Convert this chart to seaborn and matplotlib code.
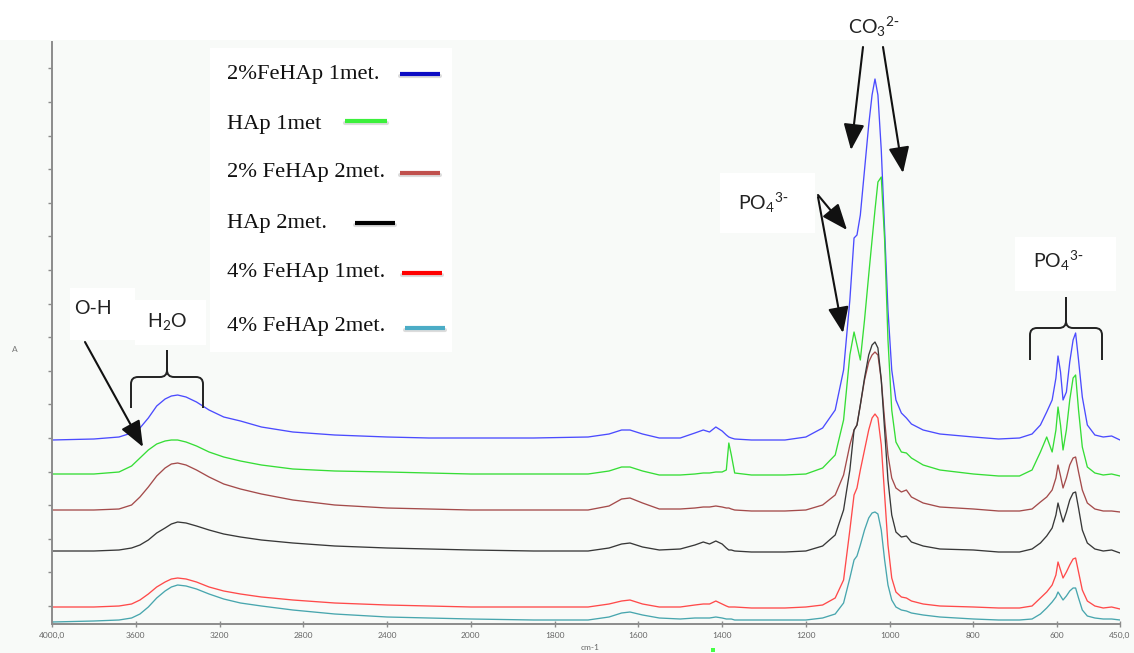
import numpy as np
import pandas as pd
import matplotlib
matplotlib.use("Agg")
import matplotlib.pyplot as plt
import matplotlib.transforms as mtransforms
from matplotlib.patches import Rectangle, PathPatch, FancyArrowPatch
from matplotlib.path import Path
from matplotlib.lines import Line2D
import seaborn as sns

# ---------------- data ----------------
wavenumber = [4000, 3800, 3680, 3620, 3580, 3540, 3500, 3460, 3430, 3400,
              3360, 3310, 3250, 3180, 3100, 3000, 2850, 2650, 2400, 2200,
              2000, 1850, 1720, 1670, 1640, 1620, 1590, 1550, 1500, 1465,
              1445, 1430, 1415, 1400, 1390, 1384, 1378, 1370, 1330, 1250,
              1200, 1160, 1130, 1110, 1095, 1085, 1078, 1070, 1060, 1050,
              1042, 1035, 1028, 1020, 1012, 1004, 995, 985, 972, 960,
              948, 920, 880, 800, 740, 690, 660, 640, 625, 612,
              603, 598, 592, 586, 578, 570, 562, 556, 549, 540,
              528, 510, 490, 470, 450]

fehap2_1met = [1.84, 1.85, 1.87, 1.91, 1.96, 2.06, 2.18, 2.25, 2.28, 2.29,
               2.27, 2.22, 2.14, 2.07, 2.03, 1.97, 1.92, 1.89, 1.87, 1.86,
               1.86, 1.86, 1.87, 1.90, 1.94, 1.94, 1.90, 1.86, 1.86, 1.91,
               1.94, 1.92, 1.97, 1.93, 1.89, 1.87, 1.86, 1.85, 1.84, 1.84,
               1.87, 1.96, 2.14, 2.54, 3.24, 3.86, 3.89, 4.09, 4.54, 4.99,
               5.29, 5.45, 5.29, 4.74, 3.94, 3.14, 2.54, 2.24, 2.11, 2.06,
               2.00, 1.94, 1.90, 1.87, 1.85, 1.86, 1.90, 1.99, 2.12, 2.24,
               2.46, 2.68, 2.52, 2.24, 2.32, 2.62, 2.84, 2.91, 2.64, 2.27,
               1.99, 1.89, 1.87, 1.88, 1.84]

hap_1met = [1.50, 1.50, 1.52, 1.58, 1.66, 1.74, 1.80, 1.83, 1.84, 1.84,
            1.82, 1.78, 1.72, 1.67, 1.63, 1.59, 1.55, 1.53, 1.52, 1.51,
            1.50, 1.50, 1.50, 1.53, 1.57, 1.57, 1.53, 1.49, 1.49, 1.50,
            1.51, 1.51, 1.52, 1.52, 1.54, 1.81, 1.69, 1.51, 1.49, 1.49,
            1.50, 1.56, 1.69, 2.04, 2.69, 2.92, 2.79, 2.64, 3.04, 3.49,
            3.84, 4.14, 4.42, 4.47, 3.84, 2.84, 2.14, 1.82, 1.72, 1.71,
            1.66, 1.59, 1.54, 1.50, 1.48, 1.48, 1.54, 1.72, 1.87, 1.72,
            1.94, 2.17, 1.99, 1.74, 1.94, 2.24, 2.46, 2.49, 2.14, 1.77,
            1.57, 1.51, 1.49, 1.50, 1.48]

fehap2_2met = [1.14, 1.14, 1.15, 1.19, 1.27, 1.37, 1.48, 1.56, 1.60, 1.61,
               1.59, 1.54, 1.47, 1.40, 1.35, 1.30, 1.24, 1.19, 1.16, 1.15,
               1.14, 1.14, 1.14, 1.18, 1.25, 1.26, 1.21, 1.15, 1.15, 1.16,
               1.17, 1.17, 1.18, 1.17, 1.16, 1.16, 1.15, 1.14, 1.13, 1.13,
               1.14, 1.19, 1.29, 1.49, 1.79, 1.94, 1.99, 2.19, 2.44, 2.62,
               2.69, 2.72, 2.69, 2.44, 2.04, 1.69, 1.46, 1.36, 1.32, 1.34,
               1.27, 1.21, 1.17, 1.15, 1.13, 1.13, 1.15, 1.22, 1.27, 1.34,
               1.46, 1.59, 1.48, 1.36, 1.46, 1.59, 1.66, 1.67, 1.52, 1.34,
               1.21, 1.15, 1.13, 1.13, 1.12]

hap_2met = [0.73, 0.73, 0.74, 0.76, 0.79, 0.84, 0.91, 0.96, 1.00, 1.02,
            1.01, 0.98, 0.94, 0.90, 0.87, 0.84, 0.81, 0.78, 0.76, 0.75,
            0.74, 0.73, 0.73, 0.76, 0.80, 0.81, 0.77, 0.74, 0.75, 0.79,
            0.82, 0.80, 0.83, 0.80, 0.76, 0.74, 0.74, 0.73, 0.72, 0.72,
            0.73, 0.78, 0.89, 1.14, 1.54, 1.94, 1.99, 2.19, 2.46, 2.69,
            2.79, 2.82, 2.76, 2.44, 1.94, 1.44, 1.09, 0.92, 0.87, 0.88,
            0.82, 0.78, 0.75, 0.74, 0.72, 0.72, 0.75, 0.81, 0.88, 0.96,
            1.09, 1.21, 1.11, 1.02, 1.12, 1.24, 1.31, 1.32, 1.16, 0.94,
            0.81, 0.75, 0.73, 0.74, 0.71]

fehap4_1met = [0.17, 0.17, 0.18, 0.20, 0.24, 0.30, 0.37, 0.42, 0.45, 0.46,
               0.45, 0.42, 0.37, 0.33, 0.30, 0.27, 0.24, 0.21, 0.19, 0.18,
               0.17, 0.17, 0.17, 0.20, 0.23, 0.24, 0.20, 0.17, 0.17, 0.19,
               0.20, 0.20, 0.23, 0.20, 0.18, 0.17, 0.17, 0.17, 0.16, 0.16,
               0.17, 0.19, 0.26, 0.44, 0.94, 1.29, 1.36, 1.54, 1.74, 1.94,
               2.06, 2.10, 2.06, 1.79, 1.29, 0.79, 0.46, 0.32, 0.27, 0.26,
               0.23, 0.20, 0.18, 0.17, 0.16, 0.16, 0.18, 0.26, 0.32, 0.39,
               0.49, 0.62, 0.54, 0.46, 0.52, 0.59, 0.65, 0.66, 0.52, 0.34,
               0.23, 0.18, 0.16, 0.17, 0.15]

fehap4_2met = [0.02, 0.03, 0.04, 0.06, 0.10, 0.17, 0.26, 0.33, 0.37, 0.39,
               0.38, 0.35, 0.30, 0.25, 0.21, 0.18, 0.14, 0.10, 0.07, 0.06,
               0.05, 0.04, 0.04, 0.07, 0.11, 0.12, 0.09, 0.06, 0.05, 0.06,
               0.06, 0.06, 0.07, 0.06, 0.05, 0.05, 0.05, 0.04, 0.04, 0.04,
               0.04, 0.06, 0.10, 0.21, 0.46, 0.64, 0.68, 0.79, 0.94, 1.06,
               1.11, 1.12, 1.10, 0.94, 0.64, 0.39, 0.24, 0.17, 0.14, 0.13,
               0.11, 0.09, 0.07, 0.05, 0.04, 0.04, 0.05, 0.10, 0.16, 0.22,
               0.27, 0.32, 0.28, 0.24, 0.28, 0.33, 0.36, 0.36, 0.26, 0.14,
               0.08, 0.06, 0.05, 0.05, 0.04]

samples = ["2%FeHAp 1met.", "HAp 1met", "2% FeHAp 2met.",
           "HAp 2met.", "4% FeHAp 1met.", "4% FeHAp 2met."]
series = [fehap2_1met, hap_1met, fehap2_2met, hap_2met, fehap4_1met, fehap4_2met]

x_ticks = [4000, 3600, 3200, 2800, 2400, 2000, 1800, 1600, 1400, 1200, 1000, 800, 600, 450]
x_tick_labels = ["4000,0", "3600", "3200", "2800", "2400", "2000", "1800",
                 "1600", "1400", "1200", "1000", "800", "600", "450,0"]

line_colors = ["#4b4bff", "#36dd36", "#a44b4b", "#383838", "#ff4a4a", "#48a6ae"]
legend_colors = ["#0b0bc4", "#3cf03c", "#c0504d", "#000000", "#ff0000", "#4bacc6"]

# ---------------- figure ----------------
sns.set_theme(style="white")
plt.rcParams["font.family"] = ["Lato", "DejaVu Sans"]
plt.rcParams["mathtext.default"] = "regular"

W, H = 1134, 653
fig = plt.figure(figsize=(W / 100, H / 100), dpi=100)
fig.patch.set_facecolor("#f8faf8")
pix = mtransforms.Affine2D().scale(1 / W, 1 / H) + fig.transFigure


def box(x0, y0, x1, y1, color="white"):
    fig.patches.append(Rectangle((x0, H - y1), x1 - x0, y1 - y0, transform=pix,
                                 facecolor=color, edgecolor="none", zorder=0))


# white strip at top and white boxes behind labels
box(0, 0, W, 40)
box(210, 48, 452, 352)
box(70, 288, 135, 340)
box(135, 300, 206, 345)
box(720, 173, 815, 233)
box(1015, 237, 1116, 291)

ax = fig.add_axes([52 / W, 1 - 624 / H, (1120 - 52) / W, (624 - 42) / H])
ax.set_facecolor("none")

df = pd.DataFrame({
    "wavenumber": np.tile(wavenumber, len(samples)),
    "absorbance": np.concatenate(series),
    "sample": np.repeat(samples, len(wavenumber)),
})
sns.lineplot(data=df, x="wavenumber", y="absorbance", hue="sample",
             hue_order=samples, palette=dict(zip(samples, line_colors)),
             estimator=None, sort=False, legend=False, linewidth=0.95, ax=ax)


def fwd(w):
    w = np.asarray(w, dtype=float)
    return np.where(w > 2000, 2000 + (w - 2000) * 0.5, w)


def inv(u):
    u = np.asarray(u, dtype=float)
    return np.where(u > 2000, 2000 + (u - 2000) * 2.0, u)


ax.set_xscale("function", functions=(fwd, inv))
ax.set_xlim(4000, 450)
ax.set_ylim(0, 5.82)
ax.set_xticks(x_ticks)
ax.set_xticklabels(x_tick_labels)
ax.set_yticks(np.arange(0.18, 5.8, 0.336))
ax.set_yticklabels([])
ax.set_xlabel("")
ax.set_ylabel("")
for s in ["top", "right"]:
    ax.spines[s].set_visible(False)
for s in ["left", "bottom"]:
    ax.spines[s].set_color("#8c8c8c")
    ax.spines[s].set_linewidth(1.4)
ax.tick_params(axis="x", direction="inout", length=5, width=1, color="#8c8c8c",
               labelsize=6, labelcolor="#666666", pad=3, bottom=True)
ax.tick_params(axis="y", direction="out", length=3, width=1, color="#8c8c8c", left=True)

# axis captions
fig.text(15 / W, 1 - 349 / H, "A", fontsize=6, color="#777777", ha="center", va="center")
fig.text(590 / W, 1 - 648 / H, "cm-1", fontsize=6, color="#666666", ha="center", va="center")
box(711, 648, 715, 652, color="#44ff44")

# legend (drawn manually to match the picture)
leg_text_y = [75, 124, 173, 224, 273, 326]
leg_line_x = [(400, 440), (345, 387), (400, 440), (355, 395), (402, 442), (405, 445)]
leg_line_y = [74, 121, 173, 223, 273, 328]
for lab, ty, (lx0, lx1), ly, col in zip(samples, leg_text_y, leg_line_x, leg_line_y, legend_colors):
    fig.text(227 / W, 1 - ty / H, lab, fontsize=16.2, family="Liberation Serif",
             color="#111111", ha="left", va="center")
    fig.lines.append(Line2D([lx0, lx1], [H - ly - 1.5, H - ly - 1.5], transform=pix,
                            color="#bbbbbb", linewidth=3, alpha=0.5))
    fig.lines.append(Line2D([lx0, lx1], [H - ly, H - ly], transform=pix,
                            color=col, linewidth=3, solid_capstyle="butt"))

# labels
lab_kw = dict(fontsize=14, color="#222222", ha="left", va="baseline", family=["Lato", "DejaVu Sans"])
fig.text(848 / W, 1 - 34 / H, r"CO$_3$$^{2\text{-}}$", **lab_kw)
fig.text(738 / W, 1 - 210 / H, r"PO$_4$$^{3\text{-}}$", **lab_kw)
fig.text(1033 / W, 1 - 268 / H, r"PO$_4$$^{3\text{-}}$", **lab_kw)
fig.text(74 / W, 1 - 314 / H, "O-H", **lab_kw)
fig.text(147 / W, 1 - 327 / H, r"H$_2$O", **lab_kw)


def arrow(x0, y0, x1, y1):
    fig.patches.append(FancyArrowPatch((x0, H - y0), (x1, H - y1), transform=pix,
                                       arrowstyle="-|>,head_length=0.8,head_width=0.32",
                                       mutation_scale=20, color="#111111", lw=1.5,
                                       shrinkA=0, shrinkB=0))


arrow(863, 47, 851, 150)
arrow(883, 47, 903, 173)
arrow(818, 195, 847, 230)
arrow(818, 197, 843, 333)
arrow(85, 342, 143, 447)


def brace(xl, xr, yh, yb, ytip):
    c = (xl + xr) / 2
    r = 7
    verts = [(xl, yb), (xl, yh + r), (xl, yh), (xl + r, yh), (c - r, yh), (c, yh), (c, yh - r), (c, ytip),
             (xr, yb), (xr, yh + r), (xr, yh), (xr - r, yh), (c + r, yh), (c, yh), (c, yh - r), (c, ytip)]
    codes = [Path.MOVETO, Path.LINETO, Path.CURVE3, Path.CURVE3, Path.LINETO, Path.CURVE3, Path.CURVE3, Path.LINETO] * 2
    verts = [(x, H - y) for x, y in verts]
    fig.patches.append(PathPatch(Path(verts, codes), transform=pix, facecolor="none",
                                 edgecolor="#222222", lw=1.4))


brace(131, 203, 377, 408, 350)
brace(1030, 1102, 328, 360, 297)

fig.savefig("out.png", dpi=100, facecolor=fig.get_facecolor())
